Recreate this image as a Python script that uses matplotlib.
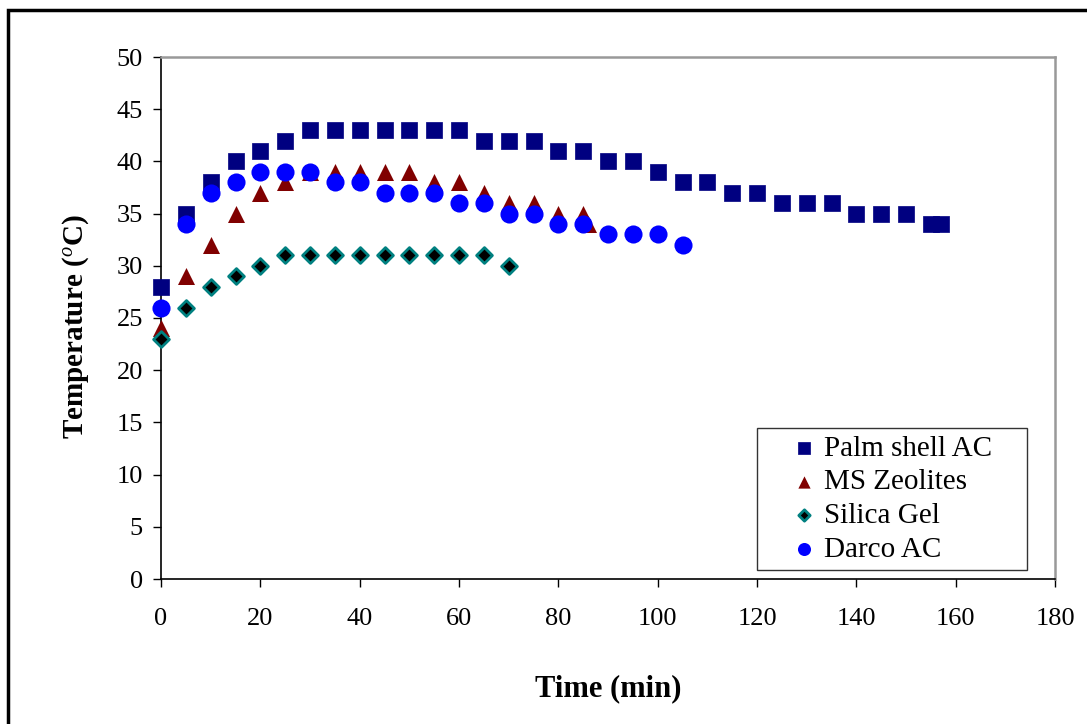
import matplotlib
matplotlib.use("Agg")
import matplotlib.pyplot as plt
from matplotlib.patches import Rectangle

plt.rcParams['font.family'] = ['Liberation Serif', 'DejaVu Serif']
plt.rcParams['mathtext.fontset'] = 'custom'
plt.rcParams['mathtext.rm'] = 'Liberation Serif'
plt.rcParams['mathtext.it'] = 'Liberation Serif:italic'
plt.rcParams['mathtext.bf'] = 'Liberation Serif:bold'

palm_x = [0, 5, 10, 15, 20, 25, 30, 35, 40, 45, 50, 55, 60, 65, 70, 75, 80, 85, 90, 95,
          100, 105, 110, 115, 120, 125, 130, 135, 140, 145, 150, 155, 157]
palm_y = [28, 35, 38, 40, 41, 42, 43, 43, 43, 43, 43, 43, 43, 42, 42, 42, 41, 41, 40, 40,
          39, 38, 38, 37, 37, 36, 36, 36, 35, 35, 35, 34, 34]

zeo_x = [0, 5, 10, 15, 20, 25, 30, 35, 40, 45, 50, 55, 60, 65, 70, 75, 80, 85, 86]
zeo_y = [24, 29, 32, 35, 37, 38, 39, 39, 39, 39, 39, 38, 38, 37, 36, 36, 35, 35, 34]

sil_x = [0, 5, 10, 15, 20, 25, 30, 35, 40, 45, 50, 55, 60, 65, 70]
sil_y = [23, 26, 28, 29, 30, 31, 31, 31, 31, 31, 31, 31, 31, 31, 30]

darco_x = [0, 5, 10, 15, 20, 25, 30, 35, 40, 45, 50, 55, 60, 65, 70, 75, 80, 85, 90, 95, 100, 105]
darco_y = [26, 34, 37, 38, 39, 39, 39, 38, 38, 37, 37, 37, 36, 36, 35, 35, 34, 34, 33, 33, 33, 32]

x_ticks = list(range(0, 181, 20))
y_ticks = list(range(0, 51, 5))

fig = plt.figure(figsize=(10.87, 7.24), dpi=100)
fig.patches.append(Rectangle((8/1087, 0 - 0.01), 1.1, 1 - 10/724 + 0.01, transform=fig.transFigure,
                             fill=False, edgecolor='black', linewidth=2.5, zorder=10))

ax = fig.add_axes([161/1087, 1 - 579/724, (1055 - 161)/1087, (579 - 57)/724])

ax.scatter(palm_x, palm_y, marker='s', s=140, color='#000080', linewidths=0.5, edgecolors='#000080',
           label='Palm shell AC', zorder=3, clip_on=False)
ax.scatter(zeo_x, zeo_y, marker='^', s=150, color='#800000', linewidths=0, label='MS Zeolites',
           zorder=3, clip_on=False)
ax.scatter(sil_x, sil_y, marker='D', s=65, facecolor='black', edgecolors='#008080', linewidths=2,
           label='Silica Gel', zorder=3, clip_on=False)
ax.scatter(darco_x, darco_y, marker='o', s=170, color='#0000FF', linewidths=0, label='Darco AC',
           zorder=4, clip_on=False)

ax.set_xlim(0, 180)
ax.set_ylim(0, 50)
ax.set_xticks(x_ticks)
ax.set_yticks(y_ticks)
ax.tick_params(axis='both', direction='out', length=6, width=1, labelsize=19, color='black')
ax.tick_params(axis='y', pad=7)
ax.tick_params(axis='x', pad=15)

for s in ['left', 'bottom']:
    ax.spines[s].set_color('black')
    ax.spines[s].set_linewidth(1.2)
for s in ['top', 'right']:
    ax.spines[s].set_color('#999999')
    ax.spines[s].set_linewidth(1.8)

ax.set_xlabel('Time (min)', fontsize=22, fontweight='bold')
ax.xaxis.set_label_coords(0.5, -0.182)
ax.set_ylabel(r'Temperature ($^{\it o}$C)', fontsize=21, fontweight='bold')
ax.yaxis.set_label_coords(-0.078, 0.483)

leg = ax.legend(loc='lower left', bbox_to_anchor=(0.6667, 0.0172, 0.302, 0.2), mode='expand',
                borderaxespad=0, fontsize=21, frameon=True, fancybox=False, edgecolor='black',
                handletextpad=-0.65, labelspacing=0.25, borderpad=0.25, handlelength=2.7,
                markerscale=0.72)
leg.get_frame().set_linewidth(1.0)

fig.savefig('out.png', dpi=100)
